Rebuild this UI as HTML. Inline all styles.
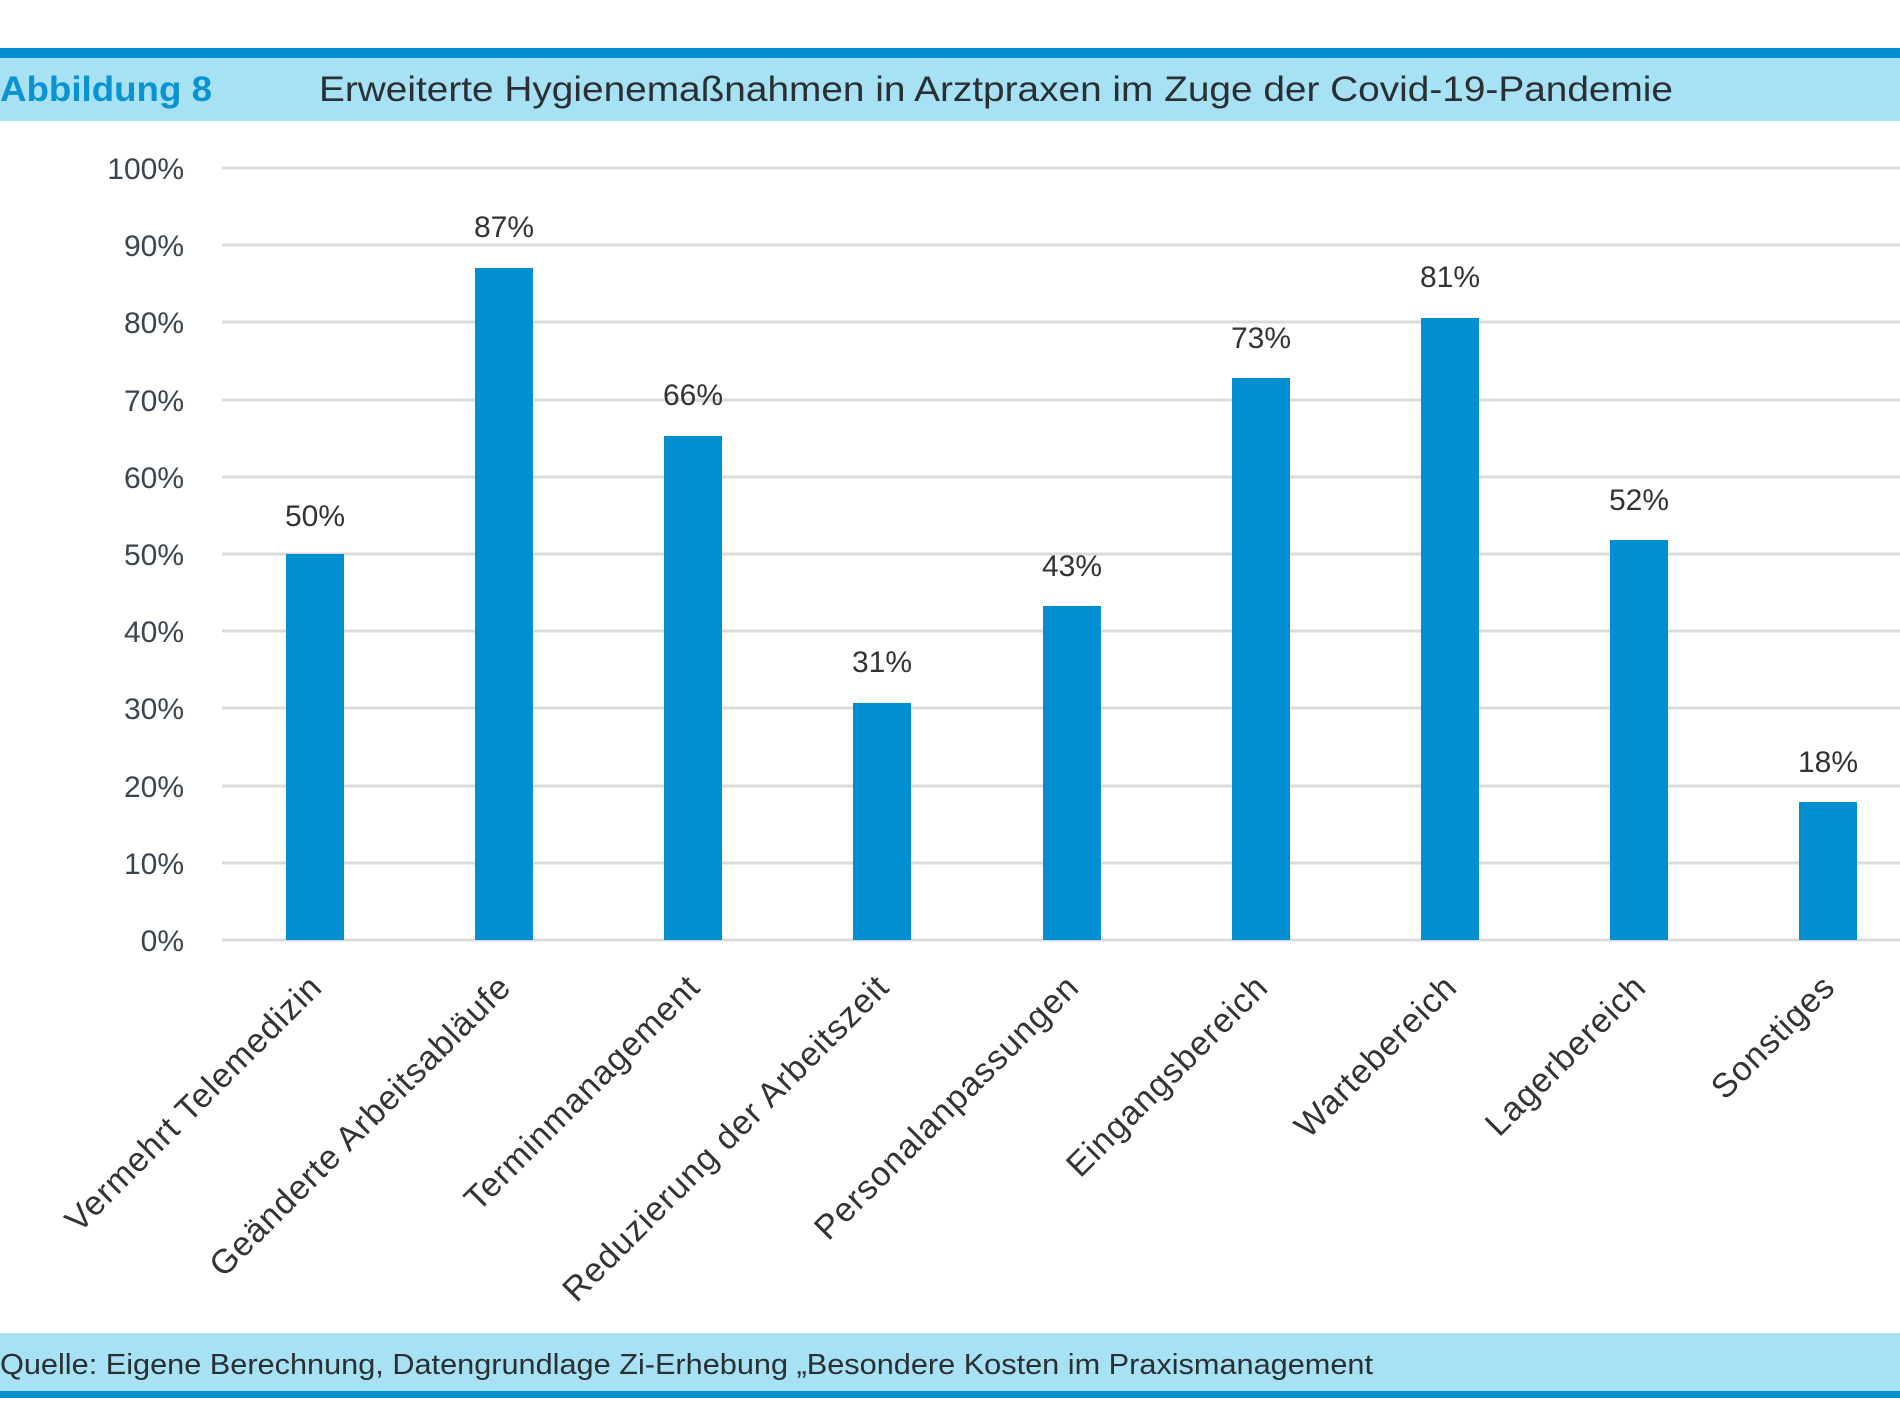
<!DOCTYPE html>
<html><head><meta charset="utf-8"><style>html,body{margin:0;padding:0;background:#fff}svg{display:block}</style></head>
<body>
<svg width="1900" height="1425" viewBox="0 0 1900 1425" xmlns="http://www.w3.org/2000/svg" font-family="Liberation Sans, sans-serif">
<rect x="0" y="48" width="1900" height="10" fill="#0090d0"/>
<rect x="0" y="58" width="1900" height="63" fill="#a6e1f4"/>
<text x="0" y="101" font-size="35" font-weight="bold" fill="#0a93d2" textLength="212" lengthAdjust="spacingAndGlyphs">Abbildung 8</text>
<text x="319" y="101" font-size="35" fill="#2a2f33" textLength="1354" lengthAdjust="spacingAndGlyphs">Erweiterte Hygienemaßnahmen in Arztpraxen im Zuge der Covid-19-Pandemie</text>
<g stroke="#d9dcdc" stroke-width="3">
<line x1="222" x2="1900" y1="168" y2="168"/><line x1="222" x2="1900" y1="245" y2="245"/><line x1="222" x2="1900" y1="322" y2="322"/><line x1="222" x2="1900" y1="400" y2="400"/><line x1="222" x2="1900" y1="477" y2="477"/><line x1="222" x2="1900" y1="554" y2="554"/><line x1="222" x2="1900" y1="631" y2="631"/><line x1="222" x2="1900" y1="708" y2="708"/><line x1="222" x2="1900" y1="786" y2="786"/><line x1="222" x2="1900" y1="863" y2="863"/><line x1="222" x2="1900" y1="940" y2="940"/>
</g>
<g font-size="30" fill="#3a4550" text-anchor="end">
<text x="184" y="179">100%</text><text x="184" y="256">90%</text><text x="184" y="333">80%</text><text x="184" y="411">70%</text><text x="184" y="488">60%</text><text x="184" y="565">50%</text><text x="184" y="642">40%</text><text x="184" y="719">30%</text><text x="184" y="797">20%</text><text x="184" y="874">10%</text><text x="184" y="951">0%</text>
</g>
<g fill="#008fd0">
<rect x="286" y="554" width="58" height="386"/>
<rect x="475" y="268" width="58" height="672"/>
<rect x="664" y="436" width="58" height="504"/>
<rect x="853" y="703" width="58" height="237"/>
<rect x="1043" y="606" width="58" height="334"/>
<rect x="1232" y="378" width="58" height="562"/>
<rect x="1421" y="318" width="58" height="622"/>
<rect x="1610" y="540" width="58" height="400"/>
<rect x="1799" y="802" width="58" height="138"/>
</g>
<g font-size="30" fill="#333" text-anchor="middle">
<text x="315" y="526">50%</text><text x="504" y="237">87%</text><text x="693" y="405">66%</text><text x="882" y="672">31%</text><text x="1072" y="576">43%</text><text x="1261" y="348">73%</text><text x="1450" y="287">81%</text><text x="1639" y="510">52%</text><text x="1828" y="772">18%</text>
</g>
<g font-size="34" fill="#333" text-anchor="end" letter-spacing="1">
<text transform="translate(324,989) rotate(-45)">Vermehrt Telemedizin</text>
<text transform="translate(513,989) rotate(-45)">Geänderte Arbeitsabläufe</text>
<text transform="translate(702,989) rotate(-45)">Terminmanagement</text>
<text transform="translate(891,989) rotate(-45)">Reduzierung der Arbeitszeit</text>
<text transform="translate(1081,989) rotate(-45)">Personalanpassungen</text>
<text transform="translate(1270,989) rotate(-45)">Eingangsbereich</text>
<text transform="translate(1459,989) rotate(-45)">Wartebereich</text>
<text transform="translate(1648,989) rotate(-45)">Lagerbereich</text>
<text transform="translate(1837,989) rotate(-45)">Sonstiges</text>
</g>
<rect x="0" y="1333" width="1900" height="58" fill="#a6e1f4"/>
<rect x="0" y="1391" width="1900" height="7" fill="#0090d0"/>
<text x="0" y="1374" font-size="29" fill="#2a2f33" textLength="1373" lengthAdjust="spacingAndGlyphs">Quelle: Eigene Berechnung, Datengrundlage Zi-Erhebung „Besondere Kosten im Praxismanagement</text>
</svg>
</body></html>
